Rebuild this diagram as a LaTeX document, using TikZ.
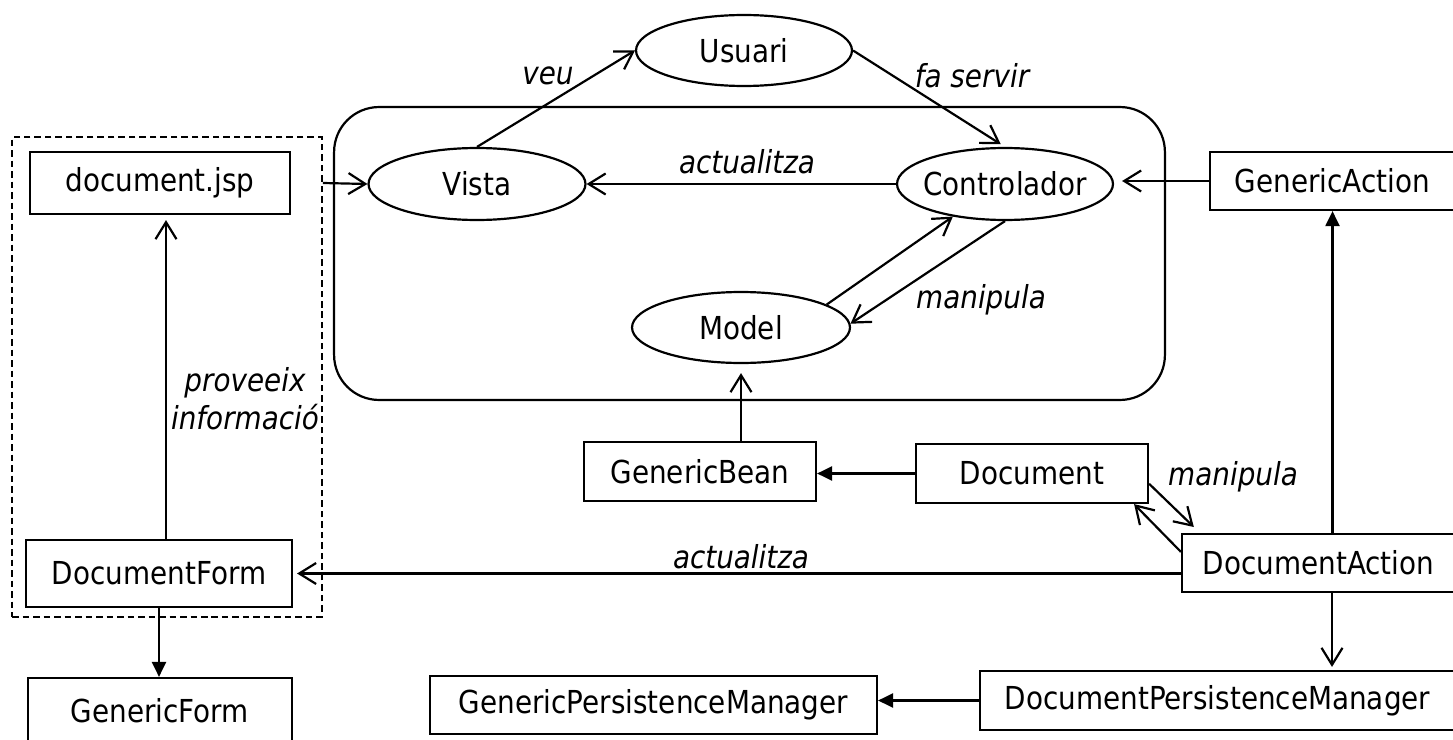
\documentclass[tikz,border=0pt]{standalone}
\usepackage{fontspec}
\setmainfont{DejaVu Sans}[FakeStretch=0.88]
\usetikzlibrary{arrows.meta,shapes.geometric}
\begin{document}
\begin{tikzpicture}[x=0.02cm,y=-0.02cm,line width=1.25pt,
  every node/.style={font=\fontsize{18pt}{21.6pt}\selectfont},
  lbl/.style={font=\fontsize{18pt}{21.6pt}\selectfont\itshape, inner sep=0pt},
  box/.style={draw, rectangle, inner sep=0pt},
  oval/.style={draw, ellipse, inner sep=0pt},
  open/.style={-{Straight Barb[length=0.34cm,width=0.42cm]}},
  tri/.style={-{Triangle[length=0.3cm,width=0.28cm]}}]
\useasboundingbox (0,0) rectangle (1453,740);

% containers
\node[draw, rounded corners=0.9cm, minimum width=16.62cm, minimum height=5.86cm, inner sep=0pt] (mvc) at (749.5,253.5) {};
\node[draw, dash pattern=on 0.13cm off 0.08cm, line width=1.1pt, minimum width=6.2cm, minimum height=9.6cm, inner sep=0pt] (grp) at (167,377) {};

% ellipses
\node[oval, minimum width=4.32cm, minimum height=1.42cm] (usuari) at (744,50.5) {\makebox[0pt]{Usuari}};
\node[oval, minimum width=4.34cm, minimum height=1.44cm] (vista) at (477,184) {\makebox[0pt]{Vista}};
\node[oval, minimum width=4.32cm, minimum height=1.44cm] (ctrl) at (1005,184) {\makebox[0pt]{Controlador}};
\node[oval, minimum width=4.36cm, minimum height=1.42cm] (model) at (741,327.5) {\makebox[0pt]{Model}};

% boxes
\node[box, minimum width=5.2cm, minimum height=1.24cm] (jsp) at (160,183) {document.jsp};
\node[box, minimum width=5.32cm, minimum height=1.34cm] (dform) at (159,573.5) {DocumentForm};
\node[box, minimum width=5.28cm, minimum height=1.3cm] (gform) at (160,710.5) {GenericForm};
\node[box, minimum width=4.9cm, minimum height=1.16cm] (gaction) at (1332.5,181) {GenericAction};
\node[box, minimum width=5.46cm, minimum height=1.16cm] (daction) at (1318.5,563) {DocumentAction};
\node[box, minimum width=9.5cm, minimum height=1.18cm] (dpm) at (1217.5,700.5) {DocumentPersistenceManager};
\node[box, minimum width=8.94cm, minimum height=1.16cm] (gpm) at (653.5,705) {GenericPersistenceManager};
\node[box, minimum width=4.64cm, minimum height=1.18cm] (gbean) at (700,471.5) {GenericBean};
\node[box, minimum width=4.64cm, minimum height=1.18cm] (doc) at (1032,473.5) {Document};

% labels
\node[lbl] (lveu) at (548,76) {veu};
\node[lbl] (lfa) at (972,76) {fa servir};
\node[lbl] (lact1) at (747,162) {actualitza};
\node[lbl] (lman1) at (981,300) {manipula};
\node[lbl] (lman2) at (1233,477) {manipula};
\node[lbl] (lact2) at (741,557) {actualitza};
\node[lbl, align=center] (lprov) at (245,399) {proveeix\\informació};

% connectors
\draw[open] (jsp.east -| grp.east) -- (vista.west);
\draw[open] (vista.north) -- (usuari.west);
\draw[open, shorten >=0.1cm] (usuari.east) -- (ctrl.north);
\draw[open] (ctrl.west) -- (vista.east);
\draw[open] (model.15) -- (ctrl.212);
\draw[open] (ctrl.south) -- (model.2);
\draw[open, shorten >=0.16cm] (gaction.west) -- (ctrl.east |- gaction.west);
\draw[tri] (daction.north -| gaction.south) -- (gaction.south);
\draw[open, shorten >=0.18cm] (gbean.north -| model.south) -- (model.south);
\draw[tri] (doc.west) -- (doc.west -| gbean.east);
\draw[open, shorten >=0.17cm] (doc.-5) -- ([xshift=0.38cm]daction.north west);
\draw[open] ([yshift=-0.38cm]daction.north west) -- ([xshift=-0.3cm]doc.south east);
\draw[open, shorten >=0.08cm] (daction.west |- dform.east) -- (dform.east);
\draw[open, shorten >=0.1cm] ([xshift=0.14cm]dform.north) -- ([xshift=0.14cm]dform.north |- jsp.south);
\draw[tri] (dform.south) -- (dform.south |- gform.north);
\draw[open, shorten >=0.06cm] ([xshift=0.27cm]daction.south) -- ([xshift=0.27cm]daction.south |- dpm.north);
\draw[tri] (dpm.west) -- (dpm.west -| gpm.east);
\end{tikzpicture}
\end{document}
